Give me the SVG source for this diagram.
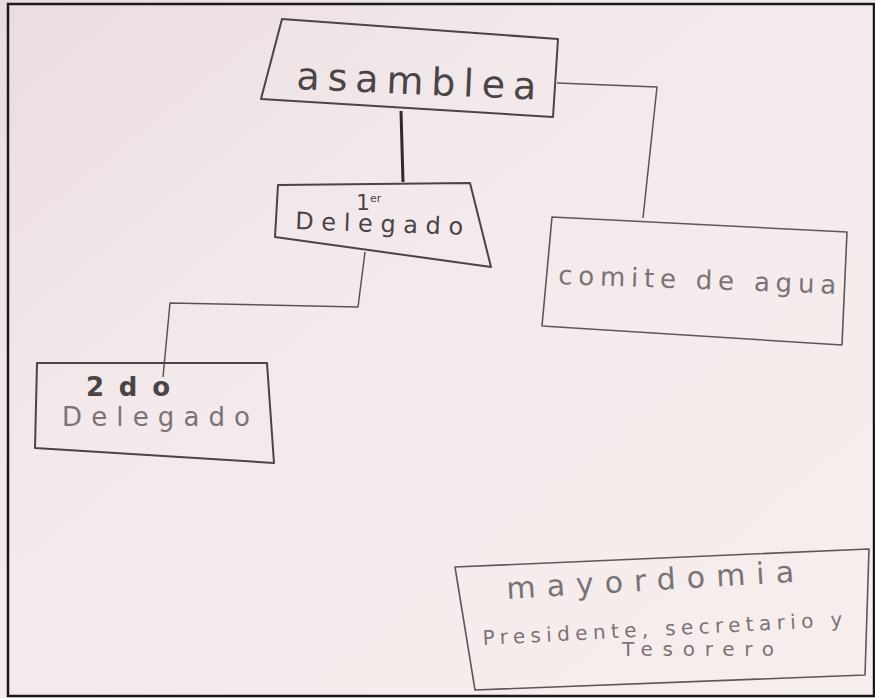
<svg xmlns="http://www.w3.org/2000/svg" width="875" height="698" viewBox="0 0 875 698">
  <defs>
    <linearGradient id="paper" x1="0" y1="0" x2="1" y2="1">
      <stop offset="0" stop-color="#e9dddf"/>
      <stop offset="0.35" stop-color="#f4e9ea"/>
      <stop offset="1" stop-color="#f7eeee"/>
    </linearGradient>
  </defs>
  <style>
    .box { fill: none; stroke: #4a4446; stroke-width: 2; stroke-linejoin: round; }
    .box-light { fill: none; stroke: #5e5759; stroke-width: 1.6; stroke-linejoin: round; }
    .conn { fill: none; stroke: #5a5355; stroke-width: 1.5; stroke-linejoin: round; }
    .conn-dark { fill: none; stroke: #2f2b2c; stroke-width: 3; }
    .hw { font-family: "DejaVu Sans", "Liberation Sans", sans-serif; fill: #4a4446; }
    .hw-light { font-family: "DejaVu Sans", "Liberation Sans", sans-serif; fill: #7a7375; }
  </style>

  <rect x="0" y="0" width="875" height="698" fill="url(#paper)"/>
  <rect x="8" y="4" width="866" height="692" fill="none" stroke="#1a1a1a" stroke-width="2.5"/>

  <g id="connectors">
    <line class="conn-dark" x1="401" y1="111" x2="403" y2="182"/>
    <polyline class="conn" points="557,83 657,87 643,218"/>
    <polyline class="conn" points="365,252 358,307 170,303 163,377"/>
  </g>

  <g id="asamblea">
    <polygon class="box" points="282,19 558,39 553,117 261,99"/>
    <text class="hw" x="296" y="89" font-size="38" textLength="240" lengthAdjust="spacing" transform="rotate(2.5 296 89)">asamblea</text>
  </g>

  <g id="delegado1">
    <polygon class="box" points="278,185 470,183 491,267 275,237"/>
    <text class="hw" x="356" y="210" font-size="22">1<tspan font-size="11" dy="-8">er</tspan></text>
    <text class="hw" x="295" y="229" font-size="24" textLength="168" lengthAdjust="spacing" transform="rotate(2 295 229)">Delegado</text>
  </g>

  <g id="comite">
    <polygon class="box-light" points="552,217 847,232 842,345 542,326"/>
    <text class="hw-light" x="558" y="284" font-size="26" textLength="278" lengthAdjust="spacing" transform="rotate(2 558 284)">comite de agua</text>
  </g>

  <g id="delegado2">
    <polygon class="box" points="37,363 267,363 274,463 35,448"/>
    <text class="hw" x="86" y="396" font-size="26" font-weight="bold" textLength="84" lengthAdjust="spacing">2do</text>
    <text class="hw-light" x="62" y="426" font-size="26" textLength="188" lengthAdjust="spacing">Delegado</text>
  </g>

  <g id="mayordomia">
    <polygon class="box-light" points="455,567 869,549 865,675 475,690"/>
    <text class="hw-light" x="507" y="599" font-size="30" textLength="288" lengthAdjust="spacing" transform="rotate(-3.4 507 599)">mayordomia</text>
    <text class="hw-light" x="483" y="645" font-size="20" textLength="360" lengthAdjust="spacing" transform="rotate(-3 483 645)">Presidente, secretario y</text>
    <text class="hw-light" x="622" y="656" font-size="20" textLength="152" lengthAdjust="spacing">Tesorero</text>
  </g>
</svg>
